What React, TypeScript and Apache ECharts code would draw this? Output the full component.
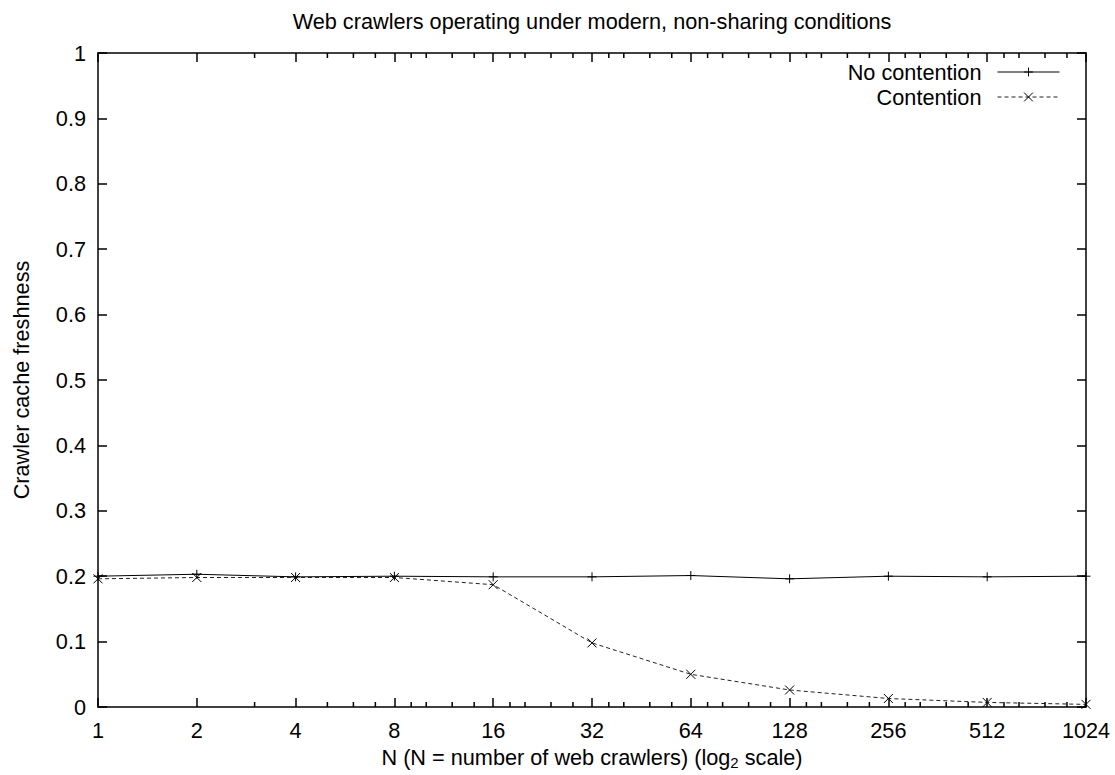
import React, { useEffect, useRef } from "react";
import * as echarts from "echarts";

// Number of web crawlers (x, log2 scale) and measured cache freshness (y)
const crawlerCounts = [1, 2, 4, 8, 16, 32, 64, 128, 256, 512, 1024];
const noContention = [0.2, 0.203, 0.199, 0.2, 0.199, 0.199, 0.201, 0.196, 0.2, 0.199, 0.2];
const contention = [0.196, 0.198, 0.198, 0.198, 0.187, 0.098, 0.05, 0.026, 0.013, 0.007, 0.004];

const seriesNames = ["No contention", "Contention"];
const titleText = "Web crawlers operating under modern, non-sharing conditions";
const xAxisTitle = "N (N = number of web crawlers) (log{sub|2} scale)";
const yAxisTitle = "Crawler cache freshness";

// gnuplot-style minor ticks: within each octave [b, 2b], at b * step, integers only
const octaveBases = [1, 2, 4, 8, 16, 32, 64, 128, 256, 512];
const octaveSteps = [1.125, 1.25, 1.5, 1.75];
const minorTicks: number[] = [];
octaveBases.forEach((b) =>
  octaveSteps.forEach((s) => {
    const v = b * s;
    if (Number.isInteger(v)) minorTicks.push(v);
  })
);

const FONT = "'Liberation Sans', Arial, Helvetica, sans-serif";
const FONT_SIZE = 21.7;
const PLUS = "path://M0,5L10,5M5,0L5,10";
const CROSS = "path://M0,0L10,10M10,0L0,10";

export default function App() {
  const ref = useRef<HTMLDivElement>(null);

  useEffect(() => {
    if (!ref.current) return;
    const chart = echarts.init(ref.current, undefined, { renderer: "svg" });

    const textStyle = { fontFamily: FONT, fontSize: FONT_SIZE, color: "#000" };
    const frameLine = { show: true, onZero: false, lineStyle: { color: "#000", width: 1.5 } };
    const majorTick = { show: true, inside: true, length: 9, lineStyle: { color: "#000", width: 1.5 } };

    const logX = {
      type: "log" as const,
      logBase: 2,
      min: 1,
      max: 1024,
      interval: 1,
      splitLine: { show: false },
      axisLine: frameLine,
      axisTick: majorTick,
    };
    const linY = {
      type: "value" as const,
      min: 0,
      max: 1,
      interval: 0.1,
      splitLine: { show: false },
      axisLine: frameLine,
      axisTick: majorTick,
    };

    chart.setOption({
      animation: false,
      backgroundColor: "#fff",
      textStyle: { fontFamily: FONT },
      graphic: [
        {
          type: "text",
          x: 592,
          y: 21,
          style: {
            text: titleText,
            align: "center",
            verticalAlign: "middle",
            fontFamily: FONT,
            fontSize: FONT_SIZE,
            fill: "#000",
          },
        },
      ],
      legend: {
        data: seriesNames,
        orient: "vertical",
        align: "right",
        right: 55,
        top: 61,
        padding: 0,
        itemWidth: 62,
        itemHeight: 11,
        itemGap: 3,
        selectedMode: false,
        lineStyle: { width: 1 },
        itemStyle: { borderWidth: 1 },
        textStyle: { ...textStyle, padding: [0, 11, 0, 0] },
      },
      grid: { left: 98, right: 29, top: 53, bottom: 67, containLabel: false },
      xAxis: [
        {
          ...logX,
          position: "bottom",
          axisLabel: {
            ...textStyle,
            margin: 12,
            formatter: (v: number) => String(Math.round(v)),
          },
          name: xAxisTitle,
          nameLocation: "middle",
          nameGap: 38,
          nameTextStyle: {
            ...textStyle,
            rich: {
              sub: { fontFamily: FONT, fontSize: 15, color: "#000", padding: [10, 0, 0, 0] },
            },
          },
        },
        { ...logX, position: "top", axisLabel: { show: false } },
      ],
      yAxis: [
        {
          ...linY,
          position: "left",
          axisLabel: { ...textStyle, margin: 12 },
          name: yAxisTitle,
          nameLocation: "middle",
          nameGap: 66,
          nameTextStyle: textStyle,
        },
        { ...linY, position: "right", axisLabel: { show: false } },
      ],
      series: [
        {
          name: seriesNames[0],
          type: "line",
          data: crawlerCounts.map((n, i) => [n, noContention[i]]),
          symbol: PLUS,
          symbolSize: 9,
          showAllSymbol: true,
          clip: false,
          silent: true,
          lineStyle: { color: "#000", width: 1 },
          itemStyle: { color: "#000", borderColor: "#000", borderWidth: 1 },
          emphasis: { disabled: true },
          z: 3,
        },
        {
          name: seriesNames[1],
          type: "line",
          data: crawlerCounts.map((n, i) => [n, contention[i]]),
          symbol: CROSS,
          symbolSize: 9,
          showAllSymbol: true,
          clip: false,
          silent: true,
          lineStyle: { color: "#222", width: 1, type: [4, 3] },
          itemStyle: { color: "#000", borderColor: "#000", borderWidth: 1 },
          emphasis: { disabled: true },
          z: 3,
        },
        {
          // minor x ticks, drawn inward on the bottom edge and mirrored on the top edge
          name: "minor-ticks",
          type: "custom",
          silent: true,
          clip: false,
          data: minorTicks.map((v) => [v, 0.5]),
          renderItem: (params: any, api: any) => {
            const px = api.coord([api.value(0), 0.5])[0];
            const cs = params.coordSys;
            const yBottom = cs.y + cs.height;
            const yTop = cs.y;
            return {
              type: "group",
              children: [
                {
                  type: "line",
                  shape: { x1: px, y1: yBottom, x2: px, y2: yBottom - 5 },
                  style: { stroke: "#000", lineWidth: 1.5 },
                },
                {
                  type: "line",
                  shape: { x1: px, y1: yTop, x2: px, y2: yTop + 5 },
                  style: { stroke: "#000", lineWidth: 1.5 },
                },
              ],
            };
          },
          z: 4,
        },
      ],
    });

    return () => chart.dispose();
  }, []);

  return (
    <div
      ref={ref}
      style={{ position: "absolute", left: 0, top: 0, width: 1115, height: 775, background: "#fff" }}
    />
  );
}
